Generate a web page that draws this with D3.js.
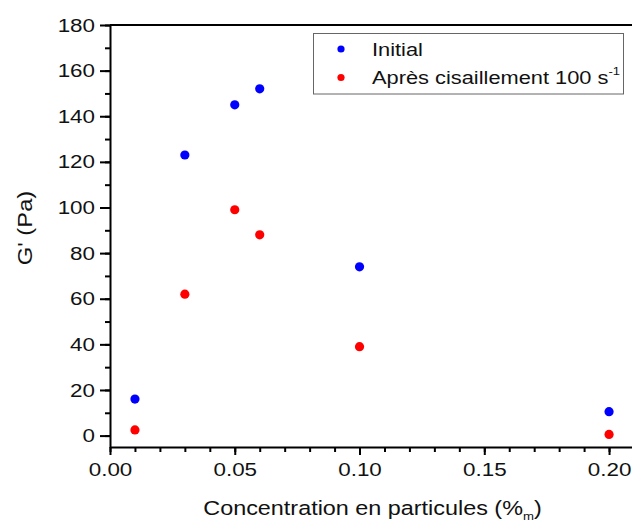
<!DOCTYPE html>
<meta charset="utf-8">
<style>
body { margin: 0; background: #fff; }
svg { font-family: "Liberation Sans", Arial, sans-serif; }
.axis path, .axis line { stroke: #000; stroke-width: 2; }
.axis text { font-size: 19px; fill: #111; transform-box: fill-box; }
.x-axis text { transform-origin: 50% 50%; transform: scaleX(1.18); }
.y-axis text { transform-origin: 100% 50%; transform: scaleX(1.18); }
.title { font-size: 19.5px; fill: #111; }
.legend-text { font-size: 18.5px; fill: #111; }
</style>
<svg width="632" height="522"></svg>
<script src="https://d3js.org/d3.v7.min.js"></script>
<script>

var conc = [0.01, 0.03, 0.05, 0.06, 0.10, 0.20];
var initial = [16, 123, 145, 152, 74, 10.5];
var apres = [2.5, 62, 99, 88, 39, 0.5];
var xTicks = [0.00, 0.05, 0.10, 0.15, 0.20];
var yTicks = [0, 20, 40, 60, 80, 100, 120, 140, 160, 180];

var svg = d3.select("svg"),
    plotLeft = 110, plotRight = 634, plotTop = 25, plotBottom = 447;

var x = d3.scaleLinear().domain([0, 0.21]).range([plotLeft, plotRight]);
var y = d3.scaleLinear().domain([-5, 180]).range([plotBottom, plotTop]);

// minor ticks first
svg.append("g")
    .attr("class", "axis")
    .attr("transform", "translate(0," + plotBottom + ")")
    .call(d3.axisBottom(x).tickValues(d3.range(0, 0.215, 0.01)).tickSize(5).tickFormat(""))
    .select(".domain").remove();

svg.append("g")
    .attr("class", "axis")
    .attr("transform", "translate(" + plotLeft + ",0)")
    .call(d3.axisLeft(y).tickValues(d3.range(0, 181, 10)).tickSize(5).tickFormat(""))
    .select(".domain").remove();

svg.append("g")
    .attr("class", "axis x-axis")
    .attr("transform", "translate(0," + plotBottom + ")")
    .call(d3.axisBottom(x).tickValues(xTicks).tickSize(8).tickSizeOuter(0).tickPadding(7.5)
      .tickFormat(d3.format(".2f")));

svg.append("g")
    .attr("class", "axis y-axis")
    .attr("transform", "translate(" + plotLeft + ",0)")
    .call(d3.axisLeft(y).tickValues(yTicks).tickSize(10).tickSizeOuter(0).tickPadding(5)
      .tickFormat(d3.format("d")));

// top frame line
svg.append("line")
    .attr("x1", plotLeft).attr("x2", plotRight)
    .attr("y1", plotTop).attr("y2", plotTop)
    .attr("stroke", "#000").attr("stroke-width", 2);

svg.append("g").selectAll("circle")
    .data(conc)
    .enter().append("circle")
    .attr("cx", function(d) { return x(d); })
    .attr("cy", function(d, i) { return y(initial[i]); })
    .attr("r", 4.6)
    .attr("fill", "#0000ff");

svg.append("g").selectAll("circle")
    .data(conc)
    .enter().append("circle")
    .attr("cx", function(d) { return x(d); })
    .attr("cy", function(d, i) { return y(apres[i]); })
    .attr("r", 4.6)
    .attr("fill", "#ff0000");

// legend
var lg = svg.append("g");
lg.append("rect")
    .attr("x", 313.5).attr("y", 33.5)
    .attr("width", 310).attr("height", 60.5)
    .attr("fill", "#fff").attr("stroke", "#666").attr("stroke-width", 1);
lg.append("circle").attr("cx", 341).attr("cy", 49).attr("r", 3.6).attr("fill", "#0000ff");
lg.append("circle").attr("cx", 341).attr("cy", 77.5).attr("r", 3.6).attr("fill", "#ff0000");
lg.append("g").attr("transform", "translate(372,55.5) scale(1.18,1)")
  .append("text").attr("class", "legend-text").text("Initial");
var t2 = lg.append("g").attr("transform", "translate(372,83.5) scale(1.18,1)")
  .append("text").attr("class", "legend-text");
t2.append("tspan").text("Après cisaillement 100 s");
t2.append("tspan").attr("dy", -9).style("font-size", "11px").text("-1");

// axis titles
var xt = svg.append("g").attr("transform", "translate(372.5,515) scale(1.2,1)")
  .append("text").attr("class", "title").attr("text-anchor", "middle");
xt.append("tspan").text("Concentration en particules (%");
xt.append("tspan").attr("dy", 5).style("font-size", "11px").text("m");
xt.append("tspan").attr("dy", -5).text(")");

svg.append("g").attr("transform", "translate(32,228) rotate(-90) scale(1.22,1.08)")
  .append("text").attr("class", "title")
    .attr("text-anchor", "middle")
    .text("G' (Pa)");

</script>
